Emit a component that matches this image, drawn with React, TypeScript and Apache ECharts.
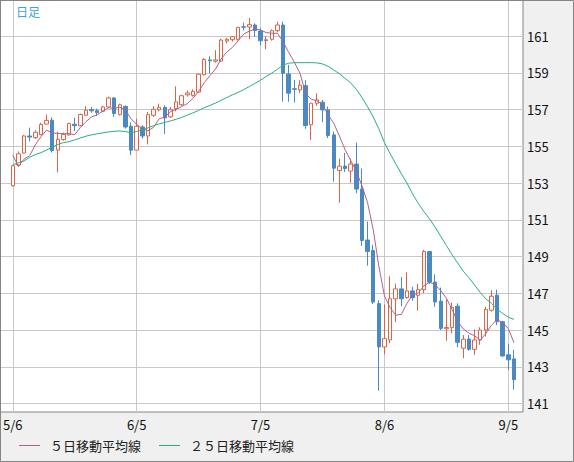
import React, { useEffect, useRef } from "react";
import * as echarts from "echarts";

// Trading days (USD/JPY daily, 2024)
const dates = [
  "5/6","5/7","5/8","5/9","5/10","5/13","5/14","5/15","5/16","5/17",
  "5/20","5/21","5/22","5/23","5/24","5/27","5/28","5/29","5/30","5/31",
  "6/3","6/4","6/5","6/6","6/7","6/10","6/11","6/12","6/13","6/14",
  "6/17","6/18","6/19","6/20","6/21","6/24","6/25","6/26","6/27","6/28",
  "7/1","7/2","7/3","7/4","7/5","7/8","7/9","7/10","7/11","7/12",
  "7/15","7/16","7/17","7/18","7/19","7/22","7/23","7/24","7/25","7/26",
  "7/29","7/30","7/31","8/1","8/2","8/5","8/6","8/7","8/8","8/9",
  "8/12","8/13","8/14","8/15","8/16","8/19","8/20","8/21","8/22","8/23",
  "8/26","8/27","8/28","8/29","8/30","9/2","9/3","9/4","9/5","9/6",
];

const opens = [
  152.85,153.98,154.63,155.56,155.47,155.63,156.21,156.42,154.79,155.36,
  155.62,156.2,156.12,156.69,157.0,156.94,156.9,157.14,157.63,156.72,
  157.17,156.09,154.79,156.05,155.56,156.69,156.99,157.12,156.6,157.05,
  157.26,157.8,157.77,157.95,158.9,159.7,159.63,159.63,160.73,160.8,
  160.82,161.5,161.49,161.6,161.27,160.75,160.82,161.29,161.6,158.93,
  158.13,158.07,158.3,156.17,157.34,157.4,156.98,155.62,153.68,153.92,
  153.65,154.03,152.67,149.9,149.33,146.44,144.08,144.46,146.7,147.24,
  146.77,147.13,146.89,147.2,149.27,147.61,146.57,145.07,145.14,146.3,
  144.01,144.51,143.95,144.46,145.0,146.08,146.9,145.45,143.65,143.43,
];
const closes = [
  153.94,154.59,155.56,155.5,155.76,156.19,156.41,154.77,155.38,155.65,
  156.24,156.12,156.73,156.96,156.93,156.83,157.14,157.63,156.78,157.26,
  156.05,154.79,156.09,155.56,156.72,157.01,157.12,156.54,156.99,157.41,
  157.75,157.9,157.99,158.92,159.72,159.65,159.7,160.78,160.82,160.96,
  161.47,161.48,161.62,161.3,160.74,160.8,161.29,161.6,158.97,157.89,
  158.1,158.32,156.13,157.34,157.52,156.98,155.59,153.81,153.92,153.79,
  154.03,152.67,149.87,149.28,146.52,144.08,144.53,146.7,147.24,146.7,
  147.13,146.77,147.2,149.27,147.61,146.53,145.09,145.14,146.23,144.33,
  144.5,143.95,144.46,145.0,146.12,146.84,145.45,143.59,143.38,142.3,
];
const lows = [
  152.8,153.89,154.6,155.26,155.4,155.6,156.19,154.66,153.58,155.3,
  155.58,155.83,156.1,156.66,156.82,156.65,156.86,157.08,156.6,156.68,
  155.96,154.52,154.79,155.42,155.1,156.6,156.9,155.67,156.55,156.9,
  157.2,157.7,157.7,157.9,158.85,158.96,159.55,159.6,160.6,160.7,
  160.75,161.3,160.82,160.96,160.5,160.28,160.75,161.2,157.43,157.43,
  157.38,157.9,155.95,155.35,157.2,156.31,155.45,153.07,151.93,153.6,
  153.01,152.44,149.58,148.5,146.42,141.7,143.68,144.28,145.43,146.3,
  146.7,146.6,146.05,147.0,147.5,146.26,145.0,144.42,144.82,144.06,
  143.47,143.88,143.65,144.2,144.65,146.0,145.26,143.55,142.84,141.76,
];
const highs = [
  153.97,154.72,155.62,156.01,155.87,156.28,156.73,156.57,155.79,155.74,
  156.28,156.55,156.78,157.18,157.14,157.05,157.2,157.7,157.68,157.32,
  157.22,156.31,156.5,156.14,156.87,157.19,157.32,157.23,157.14,158.26,
  157.8,158.05,158.1,158.95,159.8,159.9,160.23,160.85,160.9,161.0,
  161.5,161.73,161.99,161.69,161.42,161.0,161.36,161.78,161.78,159.43,
  158.6,158.6,158.6,157.34,157.88,157.52,157.16,155.8,154.33,154.64,
  154.33,155.2,153.79,150.9,149.64,146.62,146.39,147.92,147.53,147.89,
  148.15,147.35,147.52,149.36,149.3,148.03,147.31,146.66,146.5,146.45,
  144.73,144.73,145.04,145.15,146.27,147.16,147.2,145.5,144.24,143.92,
];
const ma5 = [
  154.52,153.9,154.3,154.49,155.07,155.52,155.88,155.73,155.7,155.68,
  155.69,155.63,156.02,156.34,156.6,156.71,156.92,157.1,157.06,157.13,
  156.97,156.5,156.19,155.95,155.84,156.03,156.5,156.59,156.88,157.01,
  157.16,157.32,157.61,157.99,158.46,158.84,159.2,159.75,160.13,160.38,
  160.74,161.1,161.27,161.37,161.33,161.19,161.15,161.15,160.68,160.11,
  159.57,158.98,157.88,157.56,157.48,157.26,156.71,156.25,155.56,154.82,
  154.23,153.64,152.86,151.93,150.47,148.48,146.86,146.22,145.81,145.85,
  146.46,146.91,147.01,147.41,147.6,147.48,147.14,146.73,146.12,145.46,
  145.06,144.83,144.69,144.45,144.81,145.27,145.57,145.4,145.08,144.31,
];
const ma25 = [
  154.0,154.1,154.2,154.4,154.55,154.65,154.8,154.95,155.1,155.2,
  155.25,155.35,155.45,155.55,155.62,155.68,155.73,155.78,155.82,155.83,
  155.8,155.74,155.8,155.9,156.0,156.12,156.22,156.3,156.38,156.47,
  156.57,156.7,156.82,156.95,157.1,157.22,157.35,157.5,157.65,157.8,
  157.93,158.08,158.25,158.42,158.6,158.8,158.98,159.2,159.42,159.52,
  159.55,159.55,159.55,159.55,159.54,159.48,159.35,159.15,158.95,158.7,
  158.45,158.1,157.65,157.15,156.6,155.95,155.2,154.6,154.05,153.5,
  153.0,152.4,151.9,151.45,151.05,150.6,150.1,149.6,149.1,148.65,
  148.2,147.85,147.45,147.05,146.7,146.45,146.15,145.9,145.7,145.58,
];

const xTickIndex = [0, 22, 44, 66, 88];
const yTicks = [141, 143, 145, 147, 149, 151, 153, 155, 157, 159, 161];
const seriesNames = ["５日移動平均線", "２５日移動平均線"];
const periodLabel = "日足";

const FONT = "'Noto Sans CJK JP', 'Liberation Sans', sans-serif";

export default function App() {
  const ref = useRef<HTMLDivElement>(null);
  useEffect(() => {
    if (!ref.current) return;
    const chart = echarts.init(ref.current, undefined, { renderer: "svg" });
    const candleData = dates.map((_, i) => [i, opens[i], closes[i], lows[i], highs[i]]);
    chart.setOption({
      animation: false,
      backgroundColor: "#f0f0f0",
      textStyle: { fontFamily: FONT },
      grid: {
        left: 0,
        top: 0,
        right: 51,
        bottom: 50,
        show: true,
        backgroundColor: "#ffffff",
        borderColor: "#858585",
        borderWidth: 1,
      },
      xAxis: {
        type: "value",
        min: -2.18,
        max: 90.6,
        axisLine: { show: false },
        axisTick: { show: false, customValues: xTickIndex },
        axisLabel: {
          customValues: xTickIndex,
          formatter: (v: number) => dates[Math.round(v)] ?? "",
          color: "#111",
          fontSize: 13,
          fontFamily: FONT,
          margin: 6,
        },
        splitLine: { show: true, lineStyle: { color: "#c8c8c8", width: 1 } },
      },
      yAxis: {
        type: "value",
        position: "right",
        min: 140.54,
        max: 162.96,
        axisLine: { show: false },
        axisTick: { show: false, customValues: yTicks },
        axisLabel: {
          customValues: yTicks,
          color: "#111",
          fontSize: 13,
          fontFamily: FONT,
          margin: 4,
          align: "left",
        },
        splitLine: { show: true, lineStyle: { color: "#c8c8c8", width: 1 } },
      },
      legend: {
        data: seriesNames,
        left: 14,
        top: 434,
        icon: "rect",
        itemWidth: 21,
        itemHeight: 1,
        itemGap: 18,
        textStyle: { fontSize: 13, color: "#222", fontFamily: FONT, padding: [0, 0, 0, 5] },
        selectedMode: false,
      },
      graphic: [
        {
          type: "rect",
          shape: { x: 0.5, y: 0.5, width: 573, height: 461 },
          style: { fill: "none", stroke: "#858585", lineWidth: 1 },
          z: 100,
        },
        {
          type: "text",
          x: 16,
          y: 5,
          style: { text: periodLabel, fill: "#3aa6e0", fontSize: 12, fontFamily: FONT },
          z: 100,
        },
      ],
      series: [
        {
          type: "candlestick",
          data: candleData,
          encode: { x: 0, y: [1, 2, 3, 4] },
          barWidth: 4,
          itemStyle: {
            color: "#ffffff",
            color0: "#4a89c3",
            borderColor: "#dc6446",
            borderColor0: "#4a89c3",
            borderWidth: 1,
          },
          z: 2,
        },
        {
          name: seriesNames[0],
          type: "line",
          data: ma5.map((v, i) => [i, v]),
          showSymbol: false,
          symbol: "none",
          color: "#b0608e",
          lineStyle: { width: 1, color: "#b0608e" },
          z: 3,
        },
        {
          name: seriesNames[1],
          type: "line",
          data: ma25.map((v, i) => [i, v]),
          showSymbol: false,
          symbol: "none",
          color: "#27b07a",
          lineStyle: { width: 1, color: "#27b07a" },
          z: 3,
        },
      ],
    });
    return () => chart.dispose();
  }, []);
  return (
    <div
      ref={ref}
      style={{ position: "fixed", left: 0, top: 0, width: 574, height: 462 }}
    />
  );
}
